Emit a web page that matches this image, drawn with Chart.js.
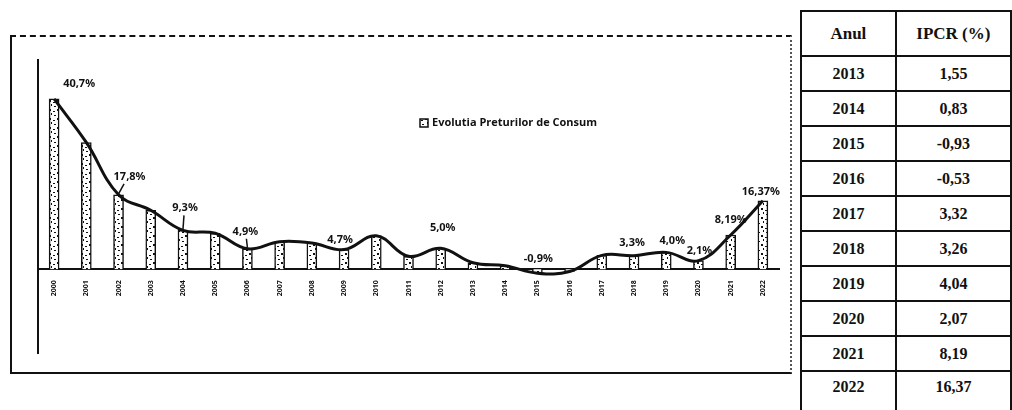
<!DOCTYPE html>
<html>
<head>
<meta charset="utf-8">
<script src="https://cdn.jsdelivr.net/npm/chart.js@4/dist/chart.umd.min.js"></script>
<style>
    body { margin: 0; background: #fff; width: 1012px; height: 410px; overflow: hidden; position: relative; }
    #frame { position: absolute; left: 10px; top: 35px; width: 778px; height: 335px;
        border-top: 2px dashed #111; border-left: 2px solid #111; border-bottom: 2px solid #111; border-right: 2px dotted #555; }
    #wrap { position: absolute; left: 0; top: 0; width: 795px; height: 410px; }
    #ipcr { position: absolute; left: 800px; top: 10px; border-collapse: collapse;
        font-family: "Liberation Serif", "DejaVu Serif", serif; font-weight: bold; font-size: 16px; color: #111; }
    #ipcr td, #ipcr th { border: 2px solid #111; text-align: center; padding: 0; }
    #ipcr th { height: 43px; font-size: 17px; }
    #ipcr td { height: 33px; }
    #ipcr tr:last-child td { height: 45px; vertical-align: top; padding-top: 6px; }
</style>
</head>
<body>
<div id="frame"></div>
<div id="wrap"><canvas id="cpi"></canvas></div>
<table id="ipcr"><thead><tr><th style="width:95px">Anul</th><th style="width:116px">IPCR (%)</th></tr></thead><tbody></tbody></table>
<script>
const years = ["2000", "2001", "2002", "2003", "2004", "2005", "2006", "2007", "2008", "2009", "2010", "2011",
    "2012", "2013", "2014", "2015", "2016", "2017", "2018", "2019", "2020", "2021", "2022"];
const cpi = [40.7, 30.3, 17.8, 14.1, 9.3, 8.6, 4.9, 6.6, 6.3, 4.7, 8.0, 3.1,
    5.0, 1.55, 0.83, -0.93, -0.53, 3.32, 3.26, 4.04, 2.07, 8.19, 16.37];
const pointLabels = ["40,7%", null, "17,8%", null, "9,3%", null, "4,9%", null, null, "4,7%", null, null,
    "5,0%", null, null, "-0,9%", null, null, "3,3%", "4,0%", "2,1%", "8,19%", "16,37%"];
const legendText = "Evolutia Preturilor de Consum";
const tableFrom = "2013";

// label offsets (dx, dy, leader line) relative to the line point
const labelOffsets = {
    0: [25, -15], 2: [11, -18, true], 4: [2, -22, true], 6: [-2, -17, true], 9: [-4, -10],
    12: [2, -20], 15: [1, -14], 18: [-2, -13], 19: [6, -12], 20: [1, -10], 21: [0, -15], 22: [-2, -9]
};

// table
const tbody = document.querySelector("#ipcr tbody");
for (let i = years.indexOf(tableFrom); i < years.length; i++) {
    const tr = document.createElement("tr");
    tr.innerHTML = "<td>" + years[i] + "</td><td>" + cpi[i].toFixed(2).replace(".", ",") + "</td>";
    tbody.appendChild(tr);
}

function barPattern() {
    const c = document.createElement("canvas");
    c.width = 8;
    c.height = 9;
    const g = c.getContext("2d");
    g.fillStyle = "#fff";
    g.fillRect(0, 0, 8, 9);
    g.fillStyle = "#111";
    g.fillRect(1, 1, 2, 2);
    g.fillRect(5, 3, 2, 1);
    g.fillRect(3, 5, 1, 2);
    g.fillRect(6, 7, 2, 1);
    return g.createPattern(c, "repeat");
}

const labelPlugin = {
    id: "labels",
    afterDatasetsDraw(chart) {
        const ctx = chart.ctx;
        const pts = chart.getDatasetMeta(1).data;
        ctx.save();
        ctx.font = "bold 11px 'Noto Sans', sans-serif";
        ctx.fillStyle = "#111";
        ctx.strokeStyle = "#111";
        ctx.lineWidth = 1.5;
        ctx.textAlign = "center";
        ctx.textBaseline = "middle";
        pointLabels.forEach((t, i) => {
            if (!t) return;
            const o = labelOffsets[i] || [0, -12];
            const p = pts[i];
            ctx.fillText(t, p.x + o[0], p.y + o[1]);
            if (o[2]) {
                ctx.beginPath();
                ctx.moveTo(p.x + o[0] * 0.5, p.y + o[1] + 7);
                ctx.lineTo(p.x, p.y - 1);
                ctx.stroke();
            }
        });
        // legend
        ctx.font = "bold 11px 'Open Sans', sans-serif";
        ctx.textAlign = "left";
        ctx.fillStyle = barPattern();
        ctx.fillRect(420, 119, 8, 8);
        ctx.strokeRect(420, 119, 8, 8);
        ctx.fillStyle = "#111";
        ctx.fillText(legendText, 432, 123);
        ctx.restore();
    }
};

new Chart(document.getElementById("cpi"), {
    type: "bar",
    data: {
        labels: years,
        datasets: [{
            label: legendText,
            data: cpi,
            backgroundColor: barPattern(),
            borderColor: "#111",
            borderWidth: 1.5,
            barThickness: 10,
            order: 2
        },
            {
                type: "line",
                label: "linie",
                data: cpi,
                borderColor: "#111",
                borderWidth: 3,
                pointRadius: 0,
                tension: 0.4,
                order: 1
            }]
    },
    options: {
        responsive: true,
        maintainAspectRatio: false,
        animation: false,
        layout: { padding: { left: 30, top: 60, right: 16, bottom: 57 } },
        plugins: { legend: { display: false }, tooltip: { enabled: false } },
        scales: {
            x: {
                position: { y: 0 },
                grid: { display: false },
                border: { display: true, color: "#111", width: 2 },
                ticks: {
                    color: "#111",
                    font: { size: 7, weight: "bold", family: "'Noto Sans', sans-serif" },
                    minRotation: 90,
                    maxRotation: 90,
                    autoSkip: false,
                    padding: 3
                }
            },
            y: {
                min: -20,
                max: 50,
                grid: { display: false },
                border: { display: true, color: "#111", width: 2 },
                ticks: { display: false }
            }
        }
    },
    plugins: [labelPlugin]
});
</script>
</body>
</html>
